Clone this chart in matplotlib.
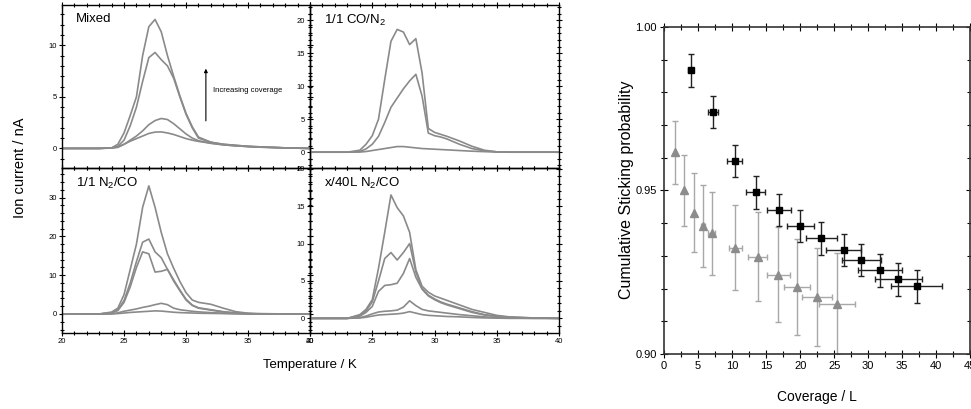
"""
TPD spectra (4 panels) + cumulative sticking probability vs coverage
"""
import matplotlib
matplotlib.use('Agg')
import matplotlib.pyplot as plt
from matplotlib.ticker import MultipleLocator

plt.rcParams['font.family'] = ['Liberation Sans', 'DejaVu Sans']
plt.rcParams['mathtext.default'] = 'regular'

# ── 1. DATA ──────────────────────────────────────────────────────────────────
temp_k = [20, 23, 24, 24.5, 25, 25.5, 26, 26.5, 27, 27.5, 28, 28.5,
          29, 29.5, 30, 30.5, 31, 32, 33, 34, 35, 36, 38, 40]

mixed_curves = [
    [0, 0, 0.05, 0.15, 0.4, 0.7, 0.95, 1.2, 1.45, 1.58, 1.6, 1.5,
     1.35, 1.15, 0.95, 0.8, 0.68, 0.5, 0.35, 0.25, 0.18, 0.12, 0.05, 0],
    [0, 0, 0.03, 0.1, 0.4, 0.8, 1.2, 1.7, 2.3, 2.7, 2.9, 2.8,
     2.4, 1.9, 1.4, 1.0, 0.75, 0.5, 0.35, 0.25, 0.18, 0.12, 0.05, 0],
    [0, 0, 0.05, 0.2, 0.8, 2.2, 4.0, 6.5, 8.8, 9.3, 8.6, 8.0,
     6.8, 5.0, 3.3, 2.0, 1.0, 0.6, 0.4, 0.3, 0.2, 0.15, 0.05, 0],
    [0, 0, 0.05, 0.4, 1.5, 3.2, 5.0, 9.0, 11.8, 12.5, 11.3, 9.0,
     7.0, 5.1, 3.4, 2.1, 1.1, 0.6, 0.4, 0.3, 0.2, 0.15, 0.05, 0],
]

co_n2_curves = [
    [0, 0, 0.02, 0.1, 0.25, 0.4, 0.55, 0.7, 0.85, 0.85, 0.75, 0.65,
     0.55, 0.5, 0.45, 0.4, 0.35, 0.25, 0.15, 0.08, 0.03, 0, 0, 0],
    [0, 0, 0.1, 0.5, 1.2, 2.4, 4.5, 6.8, 8.2, 9.6, 10.8, 11.8,
     8.5, 2.9, 2.5, 2.3, 2.0, 1.2, 0.55, 0.2, 0.05, 0, 0, 0],
    [0, 0, 0.3, 1.2, 2.5, 5.0, 11.0, 16.8, 18.6, 18.2, 16.3, 17.2,
     12.0, 3.6, 3.0, 2.7, 2.4, 1.7, 0.9, 0.3, 0.05, 0, 0, 0],
]

n2_co_curves = [
    [0, 0, 0.02, 0.1, 0.25, 0.4, 0.5, 0.6, 0.7, 0.8, 0.75, 0.6,
     0.45, 0.35, 0.3, 0.25, 0.2, 0.15, 0.1, 0.05, 0, 0, 0, 0],
    [0, 0, 0.05, 0.3, 0.7, 1.0, 1.3, 1.7, 2.0, 2.4, 2.75, 2.4,
     1.5, 1.1, 0.9, 0.7, 0.55, 0.35, 0.2, 0.1, 0.05, 0, 0, 0],
    [0, 0, 0.3, 0.9, 3.0, 7.0, 12.0, 16.0, 15.5, 10.8, 11.0, 11.5,
     8.5, 6.0, 3.6, 2.2, 1.5, 1.0, 0.5, 0.2, 0.1, 0, 0, 0],
    [0, 0, 0.3, 1.0, 3.5, 8.0, 13.5, 18.5, 19.3, 16.0, 14.5, 11.5,
     8.8, 6.2, 3.8, 2.3, 1.6, 1.1, 0.6, 0.3, 0.1, 0, 0, 0],
    [0, 0, 0.5, 1.5, 5.0, 11.5, 18.0, 27.5, 33.0, 27.5, 21.0, 15.5,
     11.8, 8.4, 5.5, 3.6, 3.0, 2.5, 1.5, 0.6, 0.2, 0.1, 0, 0],
]

x40_curves = [
    [0, 0, 0.05, 0.15, 0.3, 0.45, 0.5, 0.55, 0.6, 0.7, 0.9, 0.7,
     0.5, 0.4, 0.35, 0.3, 0.25, 0.2, 0.12, 0.06, 0.03, 0, 0, 0],
    [0, 0, 0.1, 0.3, 0.6, 0.85, 0.95, 1.0, 1.1, 1.5, 2.35, 1.7,
     1.2, 1.0, 0.9, 0.8, 0.7, 0.5, 0.35, 0.2, 0.1, 0.05, 0, 0],
    [0, 0, 0.3, 0.8, 1.6, 3.6, 4.4, 4.5, 4.7, 6.0, 8.0, 5.5,
     3.9, 3.0, 2.5, 2.1, 1.8, 1.3, 0.8, 0.45, 0.25, 0.12, 0.03, 0],
    [0, 0, 0.4, 1.0, 2.2, 5.0, 8.0, 8.8, 7.8, 8.8, 10.0, 6.2,
     4.0, 3.1, 2.6, 2.2, 1.9, 1.4, 0.9, 0.5, 0.3, 0.15, 0.05, 0],
    [0, 0, 0.5, 1.2, 2.5, 6.7, 11.5, 16.5, 14.8, 13.7, 11.5, 6.5,
     4.3, 3.5, 3.0, 2.7, 2.4, 1.8, 1.2, 0.8, 0.4, 0.2, 0.05, 0],
]

# Cumulative sticking probability
sq_cov = [3.9, 7.2, 10.4, 13.5, 16.9, 20.0, 23.1, 26.4, 29.0, 31.7, 34.4, 37.1]
sq_cov_err = [0.3, 0.7, 1.1, 1.4, 1.7, 2.0, 2.3, 2.6, 2.9, 3.2, 3.45, 3.7]
sq_stick = [0.9868, 0.974, 0.959, 0.9494, 0.944, 0.9391, 0.9354, 0.9318,
            0.9287, 0.9256, 0.9228, 0.9207]
sq_stick_err = [0.005] * 12

tri_cov = [1.6, 3.0, 4.35, 5.7, 7.0, 10.5, 13.8, 16.8, 19.55, 22.5, 25.4]
tri_cov_err = [0, 0, 0, 0.3, 0.5, 1.0, 1.4, 1.7, 1.9, 2.25, 2.6]
tri_stick = [0.9617, 0.950, 0.9432, 0.9391, 0.9369, 0.9325, 0.9298,
             0.9243, 0.9205, 0.9175, 0.9154]
tri_stick_err = [0.0097, 0.011, 0.012, 0.0125, 0.0127, 0.013, 0.0137,
                 0.0145, 0.0147, 0.015, 0.0155]

# ── 2. FIGURE ────────────────────────────────────────────────────────────────
fig = plt.figure(figsize=(9.71, 4.09), dpi=100)
fig.patch.set_facecolor('white')

CURVE = '#8a8a8a'
x0, xm, x1 = 0.0639, 0.3193, 0.5757
y0, ym, y1 = 0.1858, 0.5892, 0.9878

panels = [
    # (rect, curves, ylim, ymajor, yminor, label, show x labels)
    ((x0, ym, xm - x0, y1 - ym), mixed_curves, (-1.9, 13.9), 5, 1, 'Mixed', False),
    ((xm, ym, x1 - xm, y1 - ym), co_n2_curves, (-2.4, 22.3), 5, 1, '1/1 CO/N$_2$', False),
    ((x0, y0, xm - x0, ym - y0), n2_co_curves, (-4.9, 37.6), 10, 2, '1/1 N$_2$/CO', True),
    ((xm, y0, x1 - xm, ym - y0), x40_curves, (-1.96, 20.1), 5, 1, 'x/40L N$_2$/CO', True),
]

axes = []
for rect, curves, ylim, ymaj, ymin, label, xlab in panels:
    ax = fig.add_axes(rect)
    for c in curves:
        ax.plot(temp_k, c, color=CURVE, lw=1.2)
    ax.set_xlim(20, 40)
    ax.set_ylim(*ylim)
    ax.xaxis.set_major_locator(MultipleLocator(5))
    ax.xaxis.set_minor_locator(MultipleLocator(1))
    ax.yaxis.set_major_locator(MultipleLocator(ymaj))
    ax.yaxis.set_minor_locator(MultipleLocator(ymin))
    ax.tick_params(which='both', direction='inout', top=True, right=True,
                   labelsize=5.5, pad=1, width=0.8)
    ax.tick_params(which='major', length=5)
    ax.tick_params(which='minor', length=3)
    if not xlab:
        ax.tick_params(labelbottom=False)
    for s in ax.spines.values():
        s.set_linewidth(1.0)
    ax.set_facecolor('none')
    ax.text(0.055, 0.95, label, transform=ax.transAxes, ha='left', va='top',
            fontsize=9.5)
    axes.append(ax)

# arrow + annotation in the mixed panel
axes[0].annotate('', xy=(31.6, 8.0), xytext=(31.6, 2.4),
                 arrowprops=dict(arrowstyle='-|>', color='black', lw=0.8,
                                 mutation_scale=5))
axes[0].text(32.2, 5.6, 'Increasing coverage', fontsize=5.5, va='center')

fig.text(0.021, 0.589, 'Ion current / nA', rotation=90, ha='center',
         va='center', fontsize=10.5)
fig.text(0.3193, 0.107, 'Temperature / K', ha='center', va='center',
         fontsize=9.5)

# ── 3. STICKING PROBABILITY ──────────────────────────────────────────────────
ax2 = fig.add_axes((0.6838, 0.1345, 0.3155, 0.7995))
ax2.errorbar(tri_cov, tri_stick, xerr=tri_cov_err, yerr=tri_stick_err,
             fmt='^', color='#8c8c8c', ecolor='#a8a8a8', ms=5.5, capsize=2,
             elinewidth=1.0, capthick=1.0)
ax2.errorbar(sq_cov, sq_stick, xerr=sq_cov_err, yerr=sq_stick_err,
             fmt='s', color='black', ecolor='#222222', ms=4.5, capsize=2,
             elinewidth=1.0, capthick=1.0)
ax2.set_xlim(0, 45)
ax2.set_ylim(0.90, 1.00)
ax2.xaxis.set_major_locator(MultipleLocator(5))
ax2.xaxis.set_minor_locator(MultipleLocator(2.5))
ax2.yaxis.set_major_locator(MultipleLocator(0.05))
ax2.yaxis.set_minor_locator(MultipleLocator(0.01))
ax2.yaxis.set_major_formatter(matplotlib.ticker.FormatStrFormatter('%.2f'))
ax2.tick_params(which='both', direction='inout', top=True, right=True,
                labelsize=8, width=0.8, pad=2)
ax2.tick_params(which='major', length=6)
ax2.tick_params(which='minor', length=5)
for s in ax2.spines.values():
    s.set_linewidth(1.2)
    s.set_color('#333333')
ax2.set_xlabel('Coverage / L', fontsize=10, labelpad=14)
fig.text(0.6457, 0.535, 'Cumulative Sticking probability', rotation=90,
         ha='center', va='center', fontsize=11.5)

fig.savefig('out.png', dpi=100)
